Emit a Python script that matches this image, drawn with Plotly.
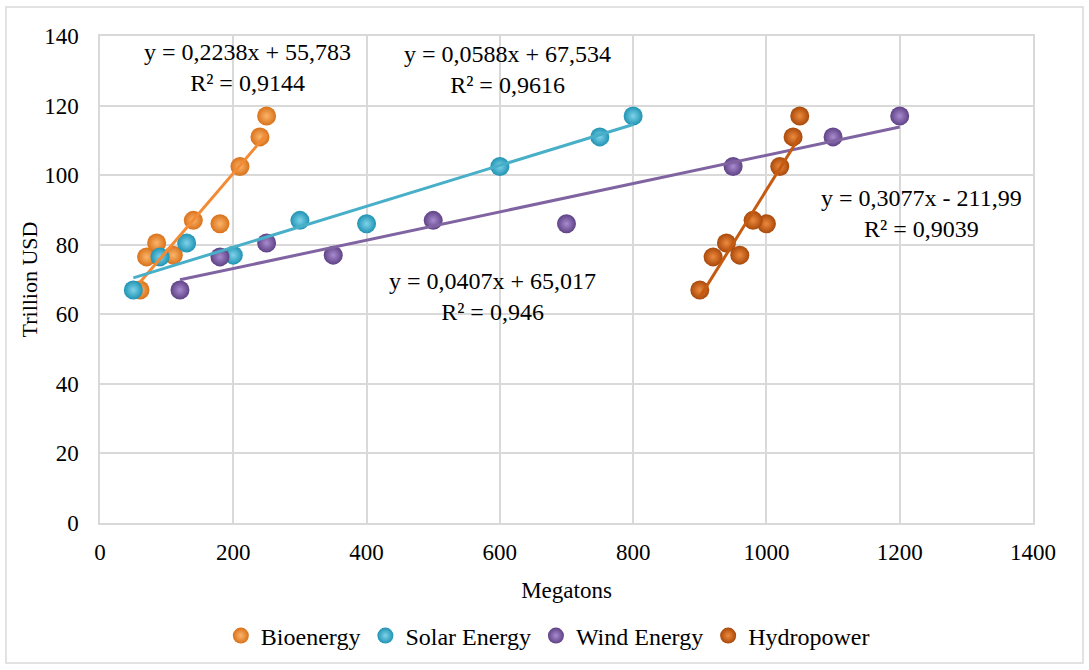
import plotly.graph_objects as go

# ---- data ----
usd = [67, 76.5, 77, 80.5, 86, 87, 102.5, 111, 117]  # Trillion USD (shared y values)

bio_x = [60, 70, 110, 85, 180, 140, 210, 240, 250]
solar_x = [50, 90, 200, 130, 400, 300, 600, 750, 800]
wind_x = [120, 180, 350, 250, 700, 500, 950, 1100, 1200]
hydro_x = [900, 920, 960, 940, 1000, 980, 1020, 1040, 1050]

series_names = ["Bioenergy", "Solar Energy", "Wind Energy", "Hydropower"]
slopes = [0.2238, 0.0588, 0.0407, 0.3077]
intercepts = [55.783, 67.534, 65.017, -211.99]
eq_labels = ["y = 0,2238x + 55,783<br>R² = 0,9144",
             "y = 0,0588x + 67,534<br>R² = 0,9616",
             "y = 0,0407x + 65,017<br>R² = 0,946",
             "y = 0,3077x - 211,99<br>R² = 0,9039"]
label_pos = [(222, 131.0), (612, 130.3), (589, 65.2), (1233, 89.1)]

x_ticks = [0, 200, 400, 600, 800, 1000, 1200, 1400]
y_ticks = [0, 20, 40, 60, 80, 100, 120, 140]

# ---- styles ----
FONT = "Liberation Serif"
edge_cols = ["#D9711A", "#1F93B3", "#5E4285", "#A8480A"]
center_cols = ["#FBB56A", "#7FD3EA", "#A98BD0", "#EE8A3E"]
line_cols = ["#F38B35", "#48AFC8", "#8064A2", "#C55A11"]

xs_all = [bio_x, solar_x, wind_x, hydro_x]

fig = go.Figure()
for name, xs, ec, cc in zip(series_names, xs_all, edge_cols, center_cols):
    fig.add_trace(go.Scatter(
        x=xs, y=usd, mode="markers", name=name,
        marker=dict(size=19, color=ec, line=dict(width=0),
                    gradient=dict(type="radial", color=cc)),
    ))
for xs, m, b, lc in zip(xs_all, slopes, intercepts, line_cols):
    x0, x1 = min(xs), max(xs)
    fig.add_trace(go.Scatter(
        x=[x0, x1], y=[m * x0 + b, m * x1 + b], mode="lines",
        line=dict(color=lc, width=3), showlegend=False, hoverinfo="skip",
    ))

for (ax, ay), txt in zip(label_pos, eq_labels):
    fig.add_annotation(x=ax, y=ay, xref="x", yref="y", text=txt,
                       showarrow=False, align="center",
                       font=dict(family=FONT, size=24, color="#000000"))

W, H = 1089, 670
L, R, T, B = 100, 56, 36, 147
pw, ph = W - L - R, H - T - B
fig.add_shape(type="rect", xref="paper", yref="paper",
              x0=(6 - L) / pw, x1=(1083 - L) / pw,
              y0=(H - B - 663) / ph, y1=(H - B - 7) / ph,
              line=dict(color="#D9D9D9", width=1.5), layer="below")

fig.update_layout(
    width=W, height=H,
    margin=dict(l=L, r=R, t=T, b=B, autoexpand=False),
    paper_bgcolor="white", plot_bgcolor="white",
    font=dict(family=FONT, size=23, color="#000000"),
    xaxis=dict(range=[0, 1400], tickvals=x_ticks, showgrid=True,
               gridcolor="#D9D9D9", gridwidth=1.5, zeroline=False,
               showline=True, linecolor="#D9D9D9", linewidth=1.5, mirror=True,
               ticks="", ticklabelstandoff=8, automargin=False,
               tickfont=dict(family=FONT, size=23, color="#000000"),
               title=dict(text="Megatons", font=dict(family=FONT, size=23, color="#000000"),
                          standoff=18)),
    yaxis=dict(range=[0, 140], tickvals=y_ticks, showgrid=True,
               gridcolor="#D9D9D9", gridwidth=1.5, zeroline=False,
               showline=True, linecolor="#D9D9D9", linewidth=1.5, mirror=True,
               ticks="", ticklabelstandoff=15, automargin=False,
               tickfont=dict(family=FONT, size=23, color="#000000"),
               title=dict(text="Trillion USD", font=dict(family=FONT, size=22, color="#000000"),
                          standoff=0)),
    legend=dict(orientation="h", x=0.48, xanchor="center",
                yref="container", y=(H - 636) / H, yanchor="middle",
                font=dict(family=FONT, size=24, color="#000000"),
                itemwidth=30, tracegroupgap=0, bgcolor="rgba(0,0,0,0)"),
)

fig.write_html("out.html", config={"displayModeBar": False},
               post_script="document.body.style.margin='0';")
